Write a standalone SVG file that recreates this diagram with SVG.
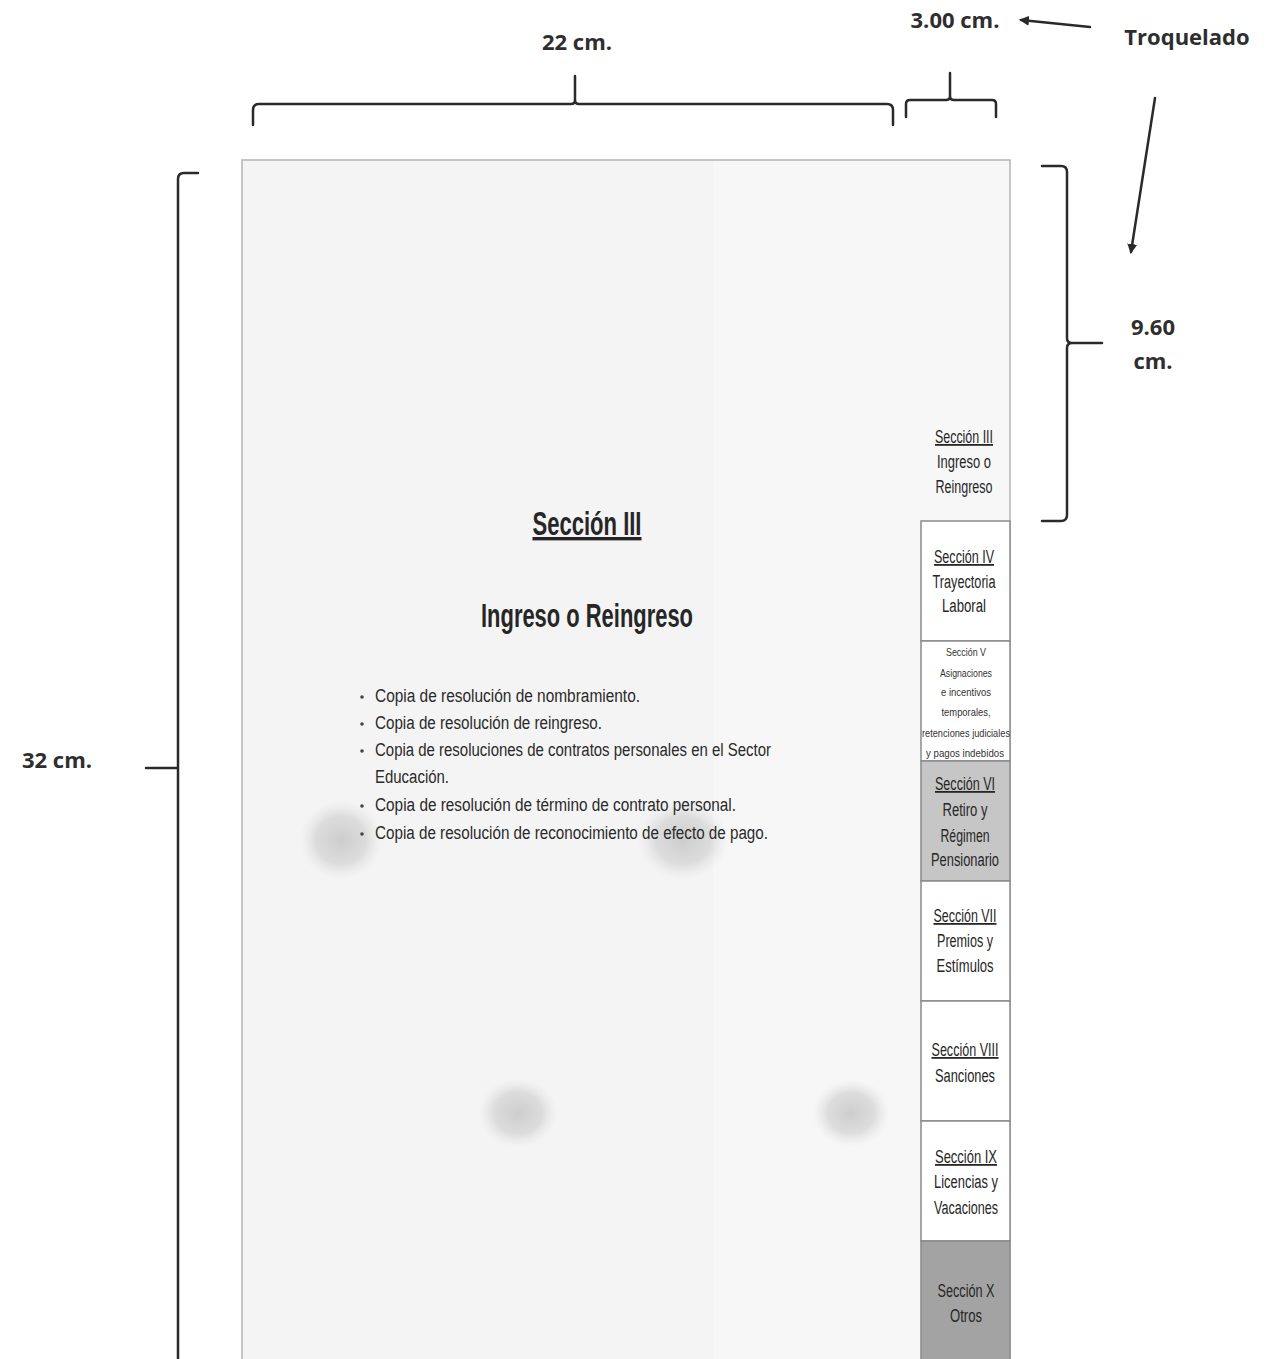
<svg xmlns="http://www.w3.org/2000/svg" width="1276" height="1359" viewBox="0 0 1276 1359">
<defs>
<style>
.dim{fill:#2e2e2e;font-family:"Open Sans","Noto Sans","Liberation Sans",sans-serif;font-weight:700;font-size:22px}
.brace{fill:none;stroke:#2a2a2a;stroke-width:2.5;stroke-linecap:round;stroke-linejoin:round}
.tab{stroke:#8a8a8a;stroke-width:1.5}
.tt{fill:#262626;font-family:"Liberation Sans Narrow","Liberation Sans",sans-serif;font-size:18px;text-anchor:middle}
.ts{fill:#333;font-family:"Liberation Sans Narrow","Liberation Sans",sans-serif;font-size:11px;text-anchor:middle}
.head{fill:#262626;font-family:"Liberation Sans Narrow","Liberation Sans",sans-serif;font-weight:700;text-anchor:middle}
.bul{fill:#2a2a2a;font-family:"Liberation Sans Narrow","Liberation Sans",sans-serif;font-size:18px}
</style>
<marker id="ah" markerWidth="10" markerHeight="10" refX="8" refY="5" orient="auto" markerUnits="userSpaceOnUse" viewBox="0 0 10 10">
<path d="M0,0 L10,5 L0,10 z" fill="#2a2a2a"/>
</marker>
<radialGradient id="blob">
<stop offset="0" stop-color="#cdcdcd"/>
<stop offset="0.6" stop-color="#d6d6d6" stop-opacity="0.8"/>
<stop offset="1" stop-color="#e6e6e6" stop-opacity="0"/>
</radialGradient>
</defs>
<rect width="1276" height="1359" fill="#ffffff"/>

<g id="page">
<rect x="242" y="160" width="768" height="1215" fill="#f7f7f7" stroke="#b4b4b4" stroke-width="1.5"/>
<rect x="243" y="161" width="470" height="1198" fill="#f2f2f2" opacity="0.6"/>
<ellipse cx="341" cy="840" rx="42" ry="40" fill="url(#blob)"/>
<ellipse cx="683" cy="840" rx="46" ry="40" fill="url(#blob)"/>
<ellipse cx="518" cy="1113" rx="40" ry="35" fill="url(#blob)"/>
<ellipse cx="851" cy="1113" rx="39" ry="34" fill="url(#blob)"/>
</g>

<g id="main-title">
<text class="head" x="587" y="535" font-size="34" textLength="109" lengthAdjust="spacingAndGlyphs" text-decoration="underline">Sección III</text>
<text class="head" x="587" y="627" font-size="34" textLength="212" lengthAdjust="spacingAndGlyphs">Ingreso o Reingreso</text>
</g>

<g id="bullets">
<g fill="#444"><circle cx="362" cy="697" r="1.8"/><circle cx="362" cy="724" r="1.8"/><circle cx="362" cy="751" r="1.8"/><circle cx="362" cy="806" r="1.8"/><circle cx="362" cy="834" r="1.8"/></g>
<text class="bul" x="375" y="702" textLength="265" lengthAdjust="spacingAndGlyphs">Copia de resolución de nombramiento.</text>
<text class="bul" x="375" y="729" textLength="227" lengthAdjust="spacingAndGlyphs">Copia de resolución de reingreso.</text>
<text class="bul" x="375" y="756" textLength="396" lengthAdjust="spacingAndGlyphs">Copia de resoluciones de contratos personales en el Sector</text>
<text class="bul" x="375" y="783" textLength="74" lengthAdjust="spacingAndGlyphs">Educación.</text>
<text class="bul" x="375" y="811" textLength="361" lengthAdjust="spacingAndGlyphs">Copia de resolución de término de contrato personal.</text>
<text class="bul" x="375" y="839" textLength="393" lengthAdjust="spacingAndGlyphs">Copia de resolución de reconocimiento de efecto de pago.</text>
</g>

<g id="tab-III">
<text class="tt" x="964" y="443" textLength="58" lengthAdjust="spacingAndGlyphs" text-decoration="underline">Sección III</text>
<text class="tt" x="964" y="468" textLength="54" lengthAdjust="spacingAndGlyphs">Ingreso o</text>
<text class="tt" x="964" y="493" textLength="57" lengthAdjust="spacingAndGlyphs">Reingreso</text>
</g>
<g id="tab-IV">
<rect class="tab" x="921" y="521" width="89" height="120" fill="#ffffff"/>
<text class="tt" x="964" y="563" textLength="60" lengthAdjust="spacingAndGlyphs" text-decoration="underline">Sección IV</text>
<text class="tt" x="964" y="588" textLength="63" lengthAdjust="spacingAndGlyphs">Trayectoria</text>
<text class="tt" x="964" y="612" textLength="44" lengthAdjust="spacingAndGlyphs">Laboral</text>
</g>
<g id="tab-V">
<rect class="tab" x="921" y="641" width="89" height="120" fill="#ffffff"/>
<text class="ts" x="966" y="656" textLength="40" lengthAdjust="spacingAndGlyphs">Sección V</text>
<text class="ts" x="966" y="677" textLength="52" lengthAdjust="spacingAndGlyphs">Asignaciones</text>
<text class="ts" x="966" y="696" textLength="50" lengthAdjust="spacingAndGlyphs">e incentivos</text>
<text class="ts" x="966" y="716" textLength="49" lengthAdjust="spacingAndGlyphs">temporales,</text>
<text class="ts" x="966" y="737" textLength="88" lengthAdjust="spacingAndGlyphs">retenciones judiciales</text>
<text class="ts" x="965" y="757" textLength="78" lengthAdjust="spacingAndGlyphs">y pagos indebidos</text>
</g>
<g id="tab-VI">
<rect class="tab" x="921" y="761" width="89" height="120" fill="#c6c6c6"/>
<text class="tt" x="965" y="790" textLength="60" lengthAdjust="spacingAndGlyphs" text-decoration="underline">Sección VI</text>
<text class="tt" x="965" y="816" textLength="45" lengthAdjust="spacingAndGlyphs">Retiro y</text>
<text class="tt" x="965" y="842" textLength="49" lengthAdjust="spacingAndGlyphs">Régimen</text>
<text class="tt" x="965" y="866" textLength="68" lengthAdjust="spacingAndGlyphs">Pensionario</text>
</g>
<g id="tab-VII">
<rect class="tab" x="921" y="881" width="89" height="120" fill="#ffffff"/>
<text class="tt" x="965" y="922" textLength="63" lengthAdjust="spacingAndGlyphs" text-decoration="underline">Sección VII</text>
<text class="tt" x="965" y="947" textLength="56" lengthAdjust="spacingAndGlyphs">Premios y</text>
<text class="tt" x="965" y="972" textLength="57" lengthAdjust="spacingAndGlyphs">Estímulos</text>
</g>
<g id="tab-VIII">
<rect class="tab" x="921" y="1001" width="89" height="120" fill="#ffffff"/>
<text class="tt" x="965" y="1056" textLength="67" lengthAdjust="spacingAndGlyphs" text-decoration="underline">Sección VIII</text>
<text class="tt" x="965" y="1082" textLength="60" lengthAdjust="spacingAndGlyphs">Sanciones</text>
</g>
<g id="tab-IX">
<rect class="tab" x="921" y="1121" width="89" height="120" fill="#ffffff"/>
<text class="tt" x="966" y="1163" textLength="62" lengthAdjust="spacingAndGlyphs" text-decoration="underline">Sección IX</text>
<text class="tt" x="966" y="1188" textLength="64" lengthAdjust="spacingAndGlyphs">Licencias y</text>
<text class="tt" x="966" y="1214" textLength="64" lengthAdjust="spacingAndGlyphs">Vacaciones</text>
</g>
<g id="tab-X">
<rect class="tab" x="921" y="1241" width="89" height="130" fill="#a3a3a3"/>
<text class="tt" x="966" y="1297" textLength="57" lengthAdjust="spacingAndGlyphs">Sección X</text>
<text class="tt" x="966" y="1322" textLength="32" lengthAdjust="spacingAndGlyphs">Otros</text>
</g>

<g id="labels">
<text class="dim" x="577" y="50" text-anchor="middle">22 cm.</text>
<text class="dim" x="955" y="28" text-anchor="middle">3.00 cm.</text>
<text class="dim" x="1187" y="45" text-anchor="middle" font-size="25">Troquelado</text>
<text class="dim" x="1153" y="335" text-anchor="middle">9.60</text>
<text class="dim" x="1153" y="369" text-anchor="middle">cm.</text>
<text class="dim" x="57" y="768" text-anchor="middle" font-size="28">32 cm.</text>
</g>

<g id="connectors">
<path class="brace" d="M253,125 L253,110 Q253,104 259,104 L571,104 Q575,104 575,100 L575,76 M575,100 Q575,104 579,104 L887,104 Q893,104 893,110 L893,125"/>
<path class="brace" d="M906,117 L906,104 Q906,100 910,100 L946,100 Q950,100 950,96 L950,73 M950,96 Q950,100 954,100 L992,100 Q996,100 996,104 L996,117"/>
<path class="brace" d="M198,173 L184,173 Q178,173 178,179 L178,1359 M178,768 L146,768"/>
<path class="brace" d="M1042,166 L1061,166 Q1067,166 1067,172 L1067,338 Q1067,343 1072,343 L1102,343 M1067,348 Q1067,343 1072,343 M1067,348 L1067,515 Q1067,521 1061,521 L1042,521"/>
<line class="brace" x1="1090" y1="27" x2="1021" y2="20" marker-end="url(#ah)"/>
<line class="brace" x1="1155" y1="98" x2="1131" y2="252" marker-end="url(#ah)"/>
</g>
</svg>
